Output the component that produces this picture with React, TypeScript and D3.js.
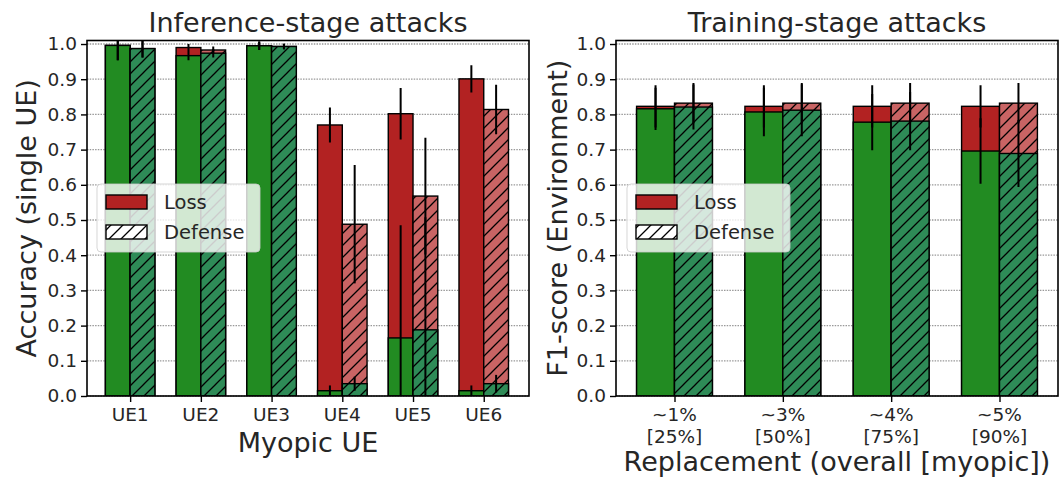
import React, { useEffect } from "react";
import * as d3 from "d3";

// ---- data ----
const ueLabels = ["UE1", "UE2", "UE3", "UE4", "UE5", "UE6"];
// no-defense bars: total height (red) and what is kept under attack (green)
const ueLossTotal = [0.996, 0.99, 0.995, 0.77, 0.802, 0.901];
const ueLossTotalErr = [0.042, 0.01, 0.012, 0.05, 0.073, 0.039];
const ueLossKept = [0.996, 0.967, 0.995, 0.015, 0.165, 0.015];
const ueLossKeptErr = [0.042, 0.013, 0.012, 0.015, 0.32, 0.015];
// defense bars
const ueDefTotal = [0.987, 0.983, 0.993, 0.488, 0.568, 0.814];
const ueDefTotalErr = [0.025, 0.01, 0.008, 0.168, 0.166, 0.07];
const ueDefKept = [0.987, 0.974, 0.993, 0.035, 0.188, 0.035];
const ueDefKeptErr = [0.025, 0.012, 0.008, 0.02, 0.32, 0.025];

const repLabels = ["~1%", "~3%", "~4%", "~5%"];
const repSubLabels = ["[25%]", "[50%]", "[75%]", "[90%]"];
const repLossTotal = [0.823, 0.823, 0.823, 0.823];
const repLossTotalErr = [0.06, 0.06, 0.06, 0.06];
const repLossKept = [0.816, 0.807, 0.778, 0.696];
const repLossKeptErr = [0.06, 0.069, 0.08, 0.093];
const repDefTotal = [0.832, 0.832, 0.832, 0.832];
const repDefTotalErr = [0.057, 0.057, 0.057, 0.057];
const repDefKept = [0.821, 0.812, 0.781, 0.689];
const repDefKeptErr = [0.064, 0.074, 0.083, 0.095];

const yTicks = [0, 0.1, 0.2, 0.3, 0.4, 0.5, 0.6, 0.7, 0.8, 0.9, 1.0];

const RED = "#b22222";
const RED_LIGHT = "#c96464";
const GREEN = "#228b22";
const GREEN_DEF = "#2e8b57";
const FONT = "DejaVu Sans";
const TXT = "#262626";

function drawPanel(svg, opts) {
  const { x0, x1, y0, y1, xDomain, labels, subLabels, id } = opts;
  const x = d3.scaleLinear().domain(xDomain).range([x0, x1]);
  const y = d3.scaleLinear().domain([0, 1.01]).range([y1, y0]);
  const bw = x(0.35) - x(0);

  svg.append("clipPath").attr("id", "clip" + id)
    .append("rect").attr("x", x0).attr("y", y0).attr("width", x1 - x0).attr("height", y1 - y0);

  const g = svg.append("g");

  // grid
  g.selectAll("line.grid").data(yTicks).enter().append("line")
    .attr("x1", x0).attr("x2", x1)
    .attr("y1", (d) => y(d)).attr("y2", (d) => y(d))
    .attr("stroke", "#999").attr("stroke-width", 1.3)
    .attr("stroke-dasharray", "1.5,1.2");

  const bars = g.append("g").attr("clip-path", "url(#clip" + id + ")");
  labels.forEach((_, i) => {
    // no-defense bar
    const lx = x(i) - bw;
    bars.append("rect").attr("x", lx).attr("width", bw)
      .attr("y", y(opts.lossTotal[i])).attr("height", y(0) - y(opts.lossTotal[i]))
      .attr("fill", RED).attr("stroke", "#000").attr("stroke-width", 1.4);
    bars.append("rect").attr("x", lx).attr("width", bw)
      .attr("y", y(opts.lossKept[i])).attr("height", y(0) - y(opts.lossKept[i]))
      .attr("fill", GREEN).attr("stroke", "#000").attr("stroke-width", 1.4);

    // defense bar (hatched)
    const dx = x(i);
    bars.append("rect").attr("x", dx).attr("width", bw)
      .attr("y", y(opts.defTotal[i])).attr("height", y(0) - y(opts.defTotal[i]))
      .attr("fill", RED_LIGHT).attr("stroke", "#000").attr("stroke-width", 1.4);
    bars.append("rect").attr("x", dx).attr("width", bw)
      .attr("y", y(opts.defTotal[i])).attr("height", y(0) - y(opts.defTotal[i]))
      .attr("fill", "url(#hatch)");
    bars.append("rect").attr("x", dx).attr("width", bw)
      .attr("y", y(opts.defKept[i])).attr("height", y(0) - y(opts.defKept[i]))
      .attr("fill", GREEN_DEF).attr("stroke", "#000").attr("stroke-width", 1.4);
    bars.append("rect").attr("x", dx).attr("width", bw)
      .attr("y", y(opts.defKept[i])).attr("height", y(0) - y(opts.defKept[i]))
      .attr("fill", "url(#hatch)");

    // error bars
    const errs = [
      [x(i) - bw / 2, opts.lossTotal[i], opts.lossTotalErr[i]],
      [x(i) - bw / 2, opts.lossKept[i], opts.lossKeptErr[i]],
      [x(i) + bw / 2, opts.defTotal[i], opts.defTotalErr[i]],
      [x(i) + bw / 2, opts.defKept[i], opts.defKeptErr[i]],
    ];
    errs.forEach(([cx, v, e]) => {
      bars.append("line").attr("x1", cx).attr("x2", cx)
        .attr("y1", y(Math.max(0, v - e))).attr("y2", y(v + e))
        .attr("stroke", "#000").attr("stroke-width", 2);
    });
  });

  // frame
  g.append("rect").attr("x", x0).attr("y", y0).attr("width", x1 - x0).attr("height", y1 - y0)
    .attr("fill", "none").attr("stroke", "#000").attr("stroke-width", 1.6);

  // y axis
  const ya = g.append("g").attr("transform", "translate(" + x0 + ",0)")
    .call(d3.axisLeft(y).tickValues(yTicks).tickFormat(d3.format(".1f")).tickSize(6).tickPadding(4));
  ya.select(".domain").remove();
  ya.selectAll("line").attr("stroke", "#000").attr("stroke-width", 1.4);
  ya.selectAll("text").attr("font-family", FONT).attr("font-size", 18.5).attr("fill", TXT);

  // x axis
  const xa = g.append("g").attr("transform", "translate(0," + y1 + ")")
    .call(d3.axisBottom(x).tickValues(d3.range(labels.length)).tickFormat(() => "").tickSize(6));
  xa.select(".domain").remove();
  xa.selectAll("line").attr("stroke", "#000").attr("stroke-width", 1.4);

  labels.forEach((lab, i) => {
    g.append("text").attr("x", x(i)).attr("y", y1 + 25)
      .attr("text-anchor", "middle").attr("font-family", FONT).attr("font-size", 18.5)
      .attr("fill", TXT).text(lab);
    if (subLabels) {
      g.append("text").attr("x", x(i)).attr("y", y1 + 47)
        .attr("text-anchor", "middle").attr("font-family", FONT).attr("font-size", 18.5)
        .attr("fill", TXT).text(subLabels[i]);
    }
  });

  // title and axis labels
  g.append("text").attr("x", (x0 + x1) / 2).attr("y", 32)
    .attr("text-anchor", "middle").attr("font-family", FONT).attr("font-size", 27)
    .attr("fill", TXT).text(opts.title);
  g.append("text").attr("x", (x0 + x1) / 2).attr("y", opts.xLabelY)
    .attr("text-anchor", "middle").attr("font-family", FONT).attr("font-size", 27)
    .attr("fill", TXT).text(opts.xLabel);
  g.append("text")
    .attr("transform", "translate(" + opts.yLabelX + "," + (y0 + y1) / 2 + ") rotate(-90)")
    .attr("text-anchor", "middle").attr("dominant-baseline", "central")
    .attr("font-family", FONT).attr("font-size", 27).attr("fill", TXT).text(opts.yLabel);

  // legend
  const lx = opts.legendX, ly = 184;
  const leg = g.append("g");
  leg.append("rect").attr("x", lx).attr("y", ly).attr("width", 163).attr("height", 68)
    .attr("rx", 4).attr("fill", "#fff").attr("fill-opacity", 0.8)
    .attr("stroke", "#ccc").attr("stroke-opacity", 0.8);
  leg.append("rect").attr("x", lx + 9).attr("y", ly + 11).attr("width", 41).attr("height", 14)
    .attr("fill", RED).attr("stroke", "#000").attr("stroke-width", 1.4);
  leg.append("rect").attr("x", lx + 9).attr("y", ly + 41).attr("width", 41).attr("height", 14)
    .attr("fill", "#fff").attr("stroke", "#000").attr("stroke-width", 1.4);
  leg.append("rect").attr("x", lx + 9).attr("y", ly + 41).attr("width", 41).attr("height", 14)
    .attr("fill", "url(#hatch)");
  leg.append("text").attr("x", lx + 67).attr("y", ly + 18).attr("dominant-baseline", "central")
    .attr("font-family", FONT).attr("font-size", 19.5).attr("fill", TXT).text("Loss");
  leg.append("text").attr("x", lx + 67).attr("y", ly + 48).attr("dominant-baseline", "central")
    .attr("font-family", FONT).attr("font-size", 19.5).attr("fill", TXT).text("Defense");
}

export default function App() {
  const ref = React.useRef(null);

  useEffect(() => {
    document.body.style.margin = "0";
    const svg = d3.select(ref.current);
    svg.selectAll("*").remove();

    const defs = svg.append("defs");
    defs.append("pattern").attr("id", "hatch").attr("patternUnits", "userSpaceOnUse")
      .attr("width", 12).attr("height", 12)
      .append("path").attr("d", "M0,12 L12,0 M-3,3 L3,-3 M9,15 L15,9")
      .attr("stroke", "#000").attr("stroke-width", 1.3);

    svg.append("rect").attr("width", 1059).attr("height", 477).attr("fill", "#fff");

    drawPanel(svg, {
      id: "L", x0: 87, x1: 529, y0: 40.5, y1: 396, xDomain: [-0.61, 5.64],
      labels: ueLabels, subLabels: null,
      lossTotal: ueLossTotal, lossTotalErr: ueLossTotalErr,
      lossKept: ueLossKept, lossKeptErr: ueLossKeptErr,
      defTotal: ueDefTotal, defTotalErr: ueDefTotalErr,
      defKept: ueDefKept, defKeptErr: ueDefKeptErr,
      title: "Inference-stage attacks", xLabel: "Myopic UE", xLabelY: 452,
      yLabel: "Accuracy (single UE)", yLabelX: 26, legendX: 97,
    });
    drawPanel(svg, {
      id: "R", x0: 616, x1: 1058, y0: 40.5, y1: 396, xDomain: [-0.54, 3.54],
      labels: repLabels, subLabels: repSubLabels,
      lossTotal: repLossTotal, lossTotalErr: repLossTotalErr,
      lossKept: repLossKept, lossKeptErr: repLossKeptErr,
      defTotal: repDefTotal, defTotalErr: repDefTotalErr,
      defKept: repDefKept, defKeptErr: repDefKeptErr,
      title: "Training-stage attacks", xLabel: "Replacement (overall [myopic])", xLabelY: 471,
      yLabel: "F1-score (Environment)", yLabelX: 557, legendX: 627,
    });
  }, []);

  return <svg ref={ref} width={1059} height={477} style={{ display: "block" }} />;
}
